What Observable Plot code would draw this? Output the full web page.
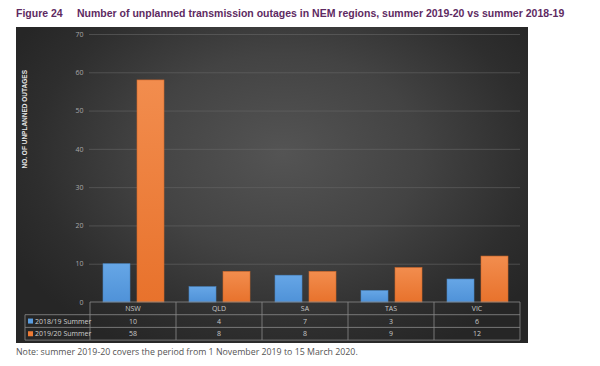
<!DOCTYPE html>
<html>
<head>
<meta charset="utf-8">
<script src="https://cdn.jsdelivr.net/npm/d3@7"></script>
<script src="https://cdn.jsdelivr.net/npm/@observablehq/plot@0.6"></script>
<style>
  html, body { margin: 0; padding: 0; background: #fff; }
  body { width: 600px; height: 366px; position: relative; overflow: hidden; }
  #title { position: absolute; left: 16px; top: 7px; font-family: "Liberation Sans", Arial, sans-serif; font-weight: bold; font-size: 10.5px; color: #5e2a62; white-space: nowrap; }
  #title .num { display: inline-block; width: 61px; }
  #panel { position: absolute; left: 16px; top: 27px; width: 512px; height: 316px;
    background: radial-gradient(ellipse 60% 70% at 52% 40%, #545454 0%, #434343 45%, #2e2e2e 80%, #262626 100%); }
  #note { position: absolute; left: 16px; top: 346px; font-family: "Open Sans", sans-serif; font-size: 8.8px; color: #555; white-space: nowrap; }
</style>
</head>
<body>
<div id="title"><span class="num">Figure 24</span>Number of unplanned transmission outages in NEM regions, summer 2019-20 vs summer 2018-19</div>
<div id="panel"></div>
<div id="note">Note: summer 2019-20 covers the period from 1 November 2019 to 15 March 2020.</div>
<script>
const regions = ["NSW", "QLD", "SA", "TAS", "VIC"];
const seriesNames = ["2018/19 Summer", "2019/20 Summer"];
const summer1819 = [10, 4, 7, 3, 6];
const summer1920 = [58, 8, 8, 9, 12];
const yTicks = [0, 10, 20, 30, 40, 50, 60, 70];
const yLabel = "NO. OF UNPLANNED OUTAGES";

const data1819 = regions.map((r, i) => ({region: r, value: summer1819[i]}));
const data1920 = regions.map((r, i) => ({region: r, value: summer1920[i]}));

const plot = Plot.plot({
  width: 512,
  height: 316,
  marginLeft: 73,
  marginRight: 8,
  marginTop: 7,
  marginBottom: 41,
  style: {background: "transparent", color: "#a8a8a8", fontFamily: "Open Sans, sans-serif", fontSize: "7px"},
  x: {domain: regions, padding: 0, axis: null},
  y: {domain: [0, 70], ticks: yTicks, label: null, tickSize: 0, tickPadding: 6},
  marks: [
    Plot.ruleY(yTicks.slice(1), {stroke: "#6a6a6a", strokeOpacity: 0.55, strokeWidth: 1}),
    Plot.barY(data1819, {x: "region", y: "value", fill: "url(#gBlue)", stroke: "#4a86c4", strokeWidth: 0.6, insetLeft: 13, insetRight: 46}),
    Plot.barY(data1920, {x: "region", y: "value", fill: "url(#gOrange)", stroke: "#d0682a", strokeWidth: 0.6, insetLeft: 47, insetRight: 12}),
    Plot.text([yLabel], {frameAnchor: "left", rotate: -90, dx: -65, fill: "#e6e6e6", fontWeight: "bold", fontSize: 6.5, fontFamily: "Liberation Sans, Arial, sans-serif"})
  ]
});

const svg = d3.select(plot);
const defs = svg.insert("defs", ":first-child");
const gb = defs.append("linearGradient").attr("id", "gBlue").attr("x1", 0).attr("y1", 0).attr("x2", 0).attr("y2", 1);
gb.append("stop").attr("offset", "0%").attr("stop-color", "#66a6e6");
gb.append("stop").attr("offset", "100%").attr("stop-color", "#4f92d8");
const go = defs.append("linearGradient").attr("id", "gOrange").attr("x1", 0).attr("y1", 0).attr("x2", 0).attr("y2", 1);
go.append("stop").attr("offset", "0%").attr("stop-color", "#f28d4e");
go.append("stop").attr("offset", "100%").attr("stop-color", "#e8722c");

// Data table under the plot, positioned with Plot's own scales
const xs = plot.scale("x");
const ys = plot.scale("y");
const bw = xs.bandwidth;
const x0 = xs.apply(regions[0]);
const x1 = xs.apply(regions[regions.length - 1]) + bw;
const yTop = ys.apply(0);
const rowH = 12.7;
const tableLeft = 9;
const g = svg.append("g").attr("stroke", "#8a8a8a").attr("stroke-width", 0.8).attr("fill", "none");
g.append("line").attr("x1", x0).attr("x2", x1).attr("y1", yTop).attr("y2", yTop);
for (let k = 1; k <= 3; k++) {
  g.append("line").attr("x1", tableLeft).attr("x2", x1).attr("y1", yTop + k * rowH).attr("y2", yTop + k * rowH);
}
g.append("line").attr("x1", tableLeft).attr("x2", tableLeft).attr("y1", yTop + rowH).attr("y2", yTop + 3 * rowH);
regions.forEach((r) => {
  const xx = xs.apply(r);
  g.append("line").attr("x1", xx).attr("x2", xx).attr("y1", yTop).attr("y2", yTop + 3 * rowH);
});
g.append("line").attr("x1", x1).attr("x2", x1).attr("y1", yTop).attr("y2", yTop + 3 * rowH);

const t = svg.append("g").attr("font-family", "Open Sans, sans-serif").attr("font-size", 7).attr("fill", "#c8c8c8").attr("text-anchor", "middle");
regions.forEach((r, i) => {
  const cx = xs.apply(r) + bw / 2;
  t.append("text").attr("x", cx).attr("y", yTop + rowH * 0.5).attr("dy", "0.35em").text(r);
  t.append("text").attr("x", cx).attr("y", yTop + rowH * 1.5).attr("dy", "0.35em").text(summer1819[i]);
  t.append("text").attr("x", cx).attr("y", yTop + rowH * 2.5).attr("dy", "0.35em").text(summer1920[i]);
});
const swatch = ["#5a9de0", "#ee7b35"];
const lg = svg.append("g").attr("text-anchor", "start");
seriesNames.forEach((s, k) => {
  const cy = yTop + rowH * (1.5 + k);
  lg.append("rect").attr("x", tableLeft + 3).attr("y", cy - 2.5).attr("width", 5).attr("height", 5).attr("fill", swatch[k]);
  lg.append("text").attr("x", tableLeft + 10).attr("y", cy).attr("dy", "0.35em")
    .attr("font-family", "Open Sans, sans-serif").attr("font-size", 7).attr("fill", "#d0d0d0").text(s);
});

document.getElementById("panel").appendChild(plot);
</script>
</body>
</html>
